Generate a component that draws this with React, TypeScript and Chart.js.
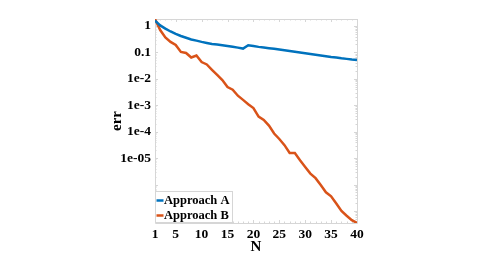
import React, { useEffect, useRef } from "react";
import { Chart, registerables } from "chart.js";
Chart.register(...registerables);

const nValues = [1,2,3,4,5,6,7,8,9,10,11,12,13,14,15,16,17,18,19,20,21,22,23,24,25,26,27,28,29,30,31,32,33,34,35,36,37,38,39,40];
const approachA = [1.6,1.05,0.8,0.62,0.5,0.42,0.36,0.31,0.28,0.25,0.228,0.21,0.198,0.186,0.175,0.163,0.152,0.14,0.186,0.175,0.162,0.153,0.145,0.137,0.128,0.12,0.113,0.106,0.099,0.093,0.087,0.082,0.077,0.072,0.067,0.064,0.06,0.057,0.054,0.052];
const approachB = [1.84,0.7,0.37,0.25,0.19,0.104,0.095,0.064,0.076,0.043,0.035,0.022,0.014,0.009,0.0049,0.0039,0.0023,0.0016,0.0011,0.00078,0.00037,0.00028,0.00017,8.5e-5,5.3e-5,3.1e-5,1.56e-5,1.55e-5,8.3e-6,4.6e-6,2.6e-6,1.74e-6,9.5e-7,5.1e-7,3.6e-7,1.9e-7,1e-7,6.6e-8,4.5e-8,3.5e-8];
const seriesLabels = ["Approach A", "Approach B"];
const seriesColors = ["#0072BD", "#D95319"];
const xTicks = [1,5,10,15,20,25,30,35,40];
const yTicks = [1,0.1,0.01,0.001,0.0001,0.00001];
const yTickLabels = ["1","0.1","1e-2","1e-3","1e-4","1e-05"];
const yMin = 3.5e-8;
const yMax = 1.84;

const FONT = '"Liberation Serif", "Times New Roman", serif';

const boxPlugin = {
  id: "boxPlugin",
  beforeDatasetsDraw(chart: any) {
    const { ctx, chartArea: ca, scales } = chart;
    const x = scales.x, y = scales.y;
    ctx.save();
    ctx.strokeStyle = "#d6d6d6";
    ctx.lineWidth = 1;
    ctx.beginPath();
    ctx.rect(Math.round(ca.left) + 0.5, Math.round(ca.top) + 0.5, Math.round(ca.right - ca.left), Math.round(ca.bottom - ca.top));
    ctx.stroke();
    ctx.beginPath();
    for (let d = -8; d <= 0; d++) {
      for (let k = 1; k <= 9; k++) {
        const v = k * Math.pow(10, d);
        if (v < yMin || v > yMax) continue;
        const py = Math.round(y.getPixelForValue(v)) + 0.5;
        const len = k === 1 ? 3 : 1.5;
        ctx.moveTo(ca.left, py); ctx.lineTo(ca.left + len, py);
        ctx.moveTo(ca.right, py); ctx.lineTo(ca.right - len, py);
      }
    }
    for (let v = 1; v <= 40; v++) {
      const px = Math.round(x.getPixelForValue(v)) + 0.5;
      const len = xTicks.includes(v) ? 3 : 1.5;
      ctx.moveTo(px, ca.bottom); ctx.lineTo(px, ca.bottom - len);
      ctx.moveTo(px, ca.top); ctx.lineTo(px, ca.top + len);
    }
    ctx.stroke();
    ctx.restore();
  },
  afterDatasetsDraw(chart: any) {
    const { ctx, chartArea: ca } = chart;
    ctx.save();
    const left = Math.round(ca.left) + 0.5;
    const top = Math.round(ca.bottom) - 32 + 0.5;
    const w = 77, h = 31;
    ctx.fillStyle = "#ffffff";
    ctx.fillRect(left, top, w, h);
    ctx.strokeStyle = "#d6d6d6";
    ctx.lineWidth = 1;
    ctx.strokeRect(left, top, w, h);
    chart.data.datasets.forEach((ds: any, i: number) => {
      const cy = top + 9 + i * 15;
      ctx.strokeStyle = ds.borderColor;
      ctx.lineWidth = 2.5;
      ctx.beginPath();
      ctx.moveTo(left + 1, cy);
      ctx.lineTo(left + 8, cy);
      ctx.stroke();
      ctx.fillStyle = "#000";
      ctx.font = `bold 12.5px ${FONT}`;
      ctx.textBaseline = "middle";
      ctx.textAlign = "left";
      ctx.fillText(ds.label, left + 8.5, cy + 0.5);
    });
    ctx.restore();
  },
};

export default function App() {
  const ref = useRef<HTMLCanvasElement | null>(null);
  useEffect(() => {
    if (!ref.current) return;
    const series = [approachA, approachB];
    const chart = new Chart(ref.current, {
      type: "line",
      data: {
        datasets: series.map((s, i) => ({
          label: seriesLabels[i],
          data: s.map((v, j) => ({ x: nValues[j], y: v })),
          borderColor: seriesColors[i],
          backgroundColor: seriesColors[i],
          borderWidth: 2.5,
          pointRadius: 0,
          tension: 0,
          fill: false,
        })),
      },
      options: {
        animation: false,
        responsive: true,
        maintainAspectRatio: false,
        layout: { padding: { left: 108, right: 139, top: 19, bottom: 1 } },
        plugins: { legend: { display: false }, tooltip: { enabled: false } },
        scales: {
          x: {
            type: "linear",
            min: 1,
            max: 40,
            afterBuildTicks: (s: any) => { s.ticks = xTicks.map((v) => ({ value: v })); },
            afterFit: (s: any) => { s.height = 33; s.paddingLeft = 0; s.paddingRight = 0; },
            ticks: { color: "#000", font: { family: FONT, weight: "bold", size: 13.5 }, padding: 3, maxRotation: 0, autoSkip: false },
            grid: { display: false, drawTicks: false },
            border: { display: false },
            title: { display: true, text: "N", color: "#000", font: { family: FONT, weight: "bold", size: 15 }, padding: 0 },
          },
          y: {
            type: "logarithmic",
            min: yMin,
            max: yMax,
            afterBuildTicks: (s: any) => { s.ticks = yTicks.map((v) => ({ value: v })); },
            afterFit: (s: any) => { s.width = 47; s.paddingTop = 0; s.paddingBottom = 0; },
            ticks: {
              color: "#000",
              font: { family: FONT, weight: "bold", size: 13.5 },
              padding: 4,
              autoSkip: false,
              callback: (v: any) => {
                const idx = yTicks.findIndex((t) => Math.abs(Math.log10(t) - Math.log10(Number(v))) < 1e-6);
                return idx >= 0 ? yTickLabels[idx] : "";
              },
            },
            grid: { display: false, drawTicks: false },
            border: { display: false },
            title: { display: true, text: "err", color: "#000", font: { family: FONT, weight: "bold", size: 15 }, padding: 0 },
          },
        },
      },
      plugins: [boxPlugin],
    } as any);
    return () => chart.destroy();
  }, []);
  return (
    <div style={{ position: "absolute", left: 0, top: 0, width: 496, height: 257, background: "#fff" }}>
      <canvas ref={ref} />
    </div>
  );
}
